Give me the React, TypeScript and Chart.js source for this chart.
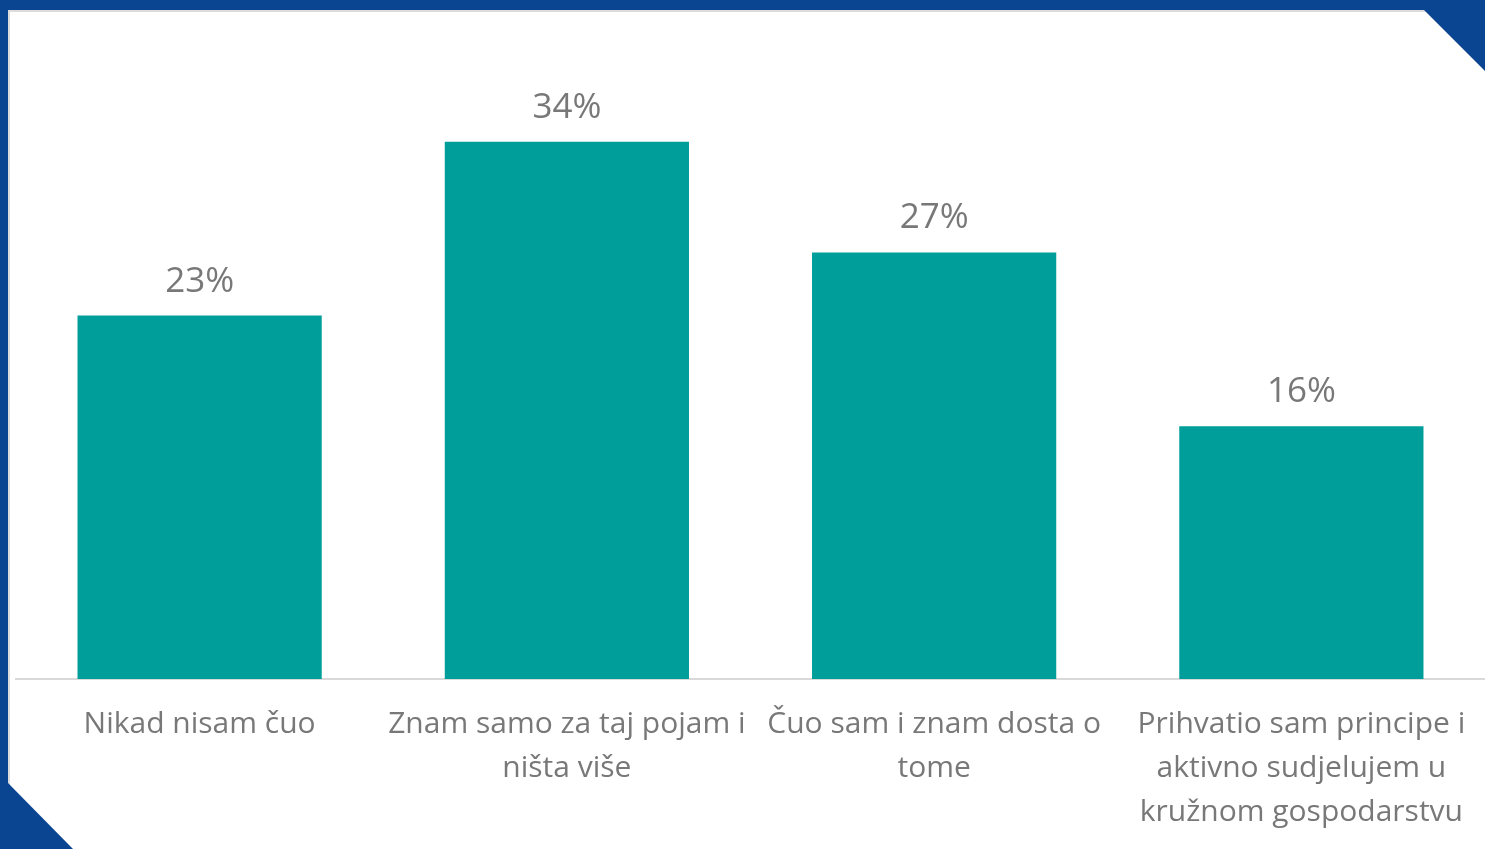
import React, { useEffect, useRef } from "react";
import { Chart, registerables } from "chart.js";

Chart.register(...registerables);

const categories: string[][] = [
  ["Nikad nisam čuo"],
  ["Znam samo za taj pojam i", "ništa više"],
  ["Čuo sam i znam dosta o", "tome"],
  ["Prihvatio sam principe i", "aktivno sudjelujem u", "kružnom gospodarstvu"],
];
const values: number[] = [23, 34, 27, 16];
const valueLabels: string[] = ["23%", "34%", "27%", "16%"];

const BAR = "#009E9A";
const TEXT = "#787878";
const FRAME = "#0A4592";

const framePlugin = {
  id: "frame",
  beforeDraw(chart: any) {
    const ctx = chart.ctx;
    const w = chart.width;
    const h = chart.height;
    ctx.save();
    ctx.fillStyle = "#ffffff";
    ctx.fillRect(0, 0, w, h);
    ctx.fillStyle = "#dcdcdc";
    ctx.fillRect(8, 10, 2, h);
    ctx.fillRect(8, 10, w, 2);
    ctx.fillStyle = FRAME;
    ctx.fillRect(0, 0, w, 10);
    ctx.fillRect(0, 0, 8, h);
    ctx.beginPath();
    ctx.moveTo(1424, 0);
    ctx.lineTo(w, 0);
    ctx.lineTo(w, 71);
    ctx.lineTo(1424, 10);
    ctx.closePath();
    ctx.fill();
    ctx.beginPath();
    ctx.moveTo(0, 783);
    ctx.lineTo(8, 783);
    ctx.lineTo(73, h);
    ctx.lineTo(0, h);
    ctx.closePath();
    ctx.fill();
    ctx.restore();
  },
};

const labelPlugin = {
  id: "valueLabels",
  afterDatasetsDraw(chart: any) {
    const ctx = chart.ctx;
    const meta = chart.getDatasetMeta(0);
    ctx.save();
    ctx.fillStyle = TEXT;
    ctx.font = "35px 'Open Sans'";
    ctx.textAlign = "center";
    ctx.textBaseline = "alphabetic";
    meta.data.forEach((el: any, i: number) => {
      ctx.fillText(valueLabels[i], el.x, el.y - 24);
    });
    ctx.restore();
  },
};

export default function App() {
  const ref = useRef<HTMLCanvasElement>(null);
  useEffect(() => {
    document.body.style.margin = "0";
    const chart = new Chart(ref.current!, {
      type: "bar",
      data: {
        labels: categories as any,
        datasets: [
          {
            data: values,
            backgroundColor: BAR,
            categoryPercentage: 1,
            barPercentage: 0.665,
          },
        ],
      },
      options: {
        animation: false,
        responsive: false,
        devicePixelRatio: 1,
        layout: { padding: { left: 16, right: 0, top: 47, bottom: 0 } },
        plugins: { legend: { display: false }, tooltip: { enabled: false } },
        scales: {
          x: {
            grid: { display: false },
            border: { display: true, color: "#d9d9d9", width: 2 },
            ticks: {
              color: TEXT,
              font: { family: "'Open Sans'", size: 30, lineHeight: "44px" } as any,
              padding: 15,
              maxRotation: 0,
              autoSkip: false,
            },
            afterFit(scale: any) {
              scale.height = 170;
            },
          },
          y: {
            display: false,
            min: 0,
            max: 40,
          },
        },
      },
      plugins: [framePlugin, labelPlugin],
    });
    return () => chart.destroy();
  }, []);
  return (
    <div style={{ width: 1485, height: 849 }}>
      <canvas ref={ref} width={1485} height={849} style={{ display: "block" }} />
    </div>
  );
}
